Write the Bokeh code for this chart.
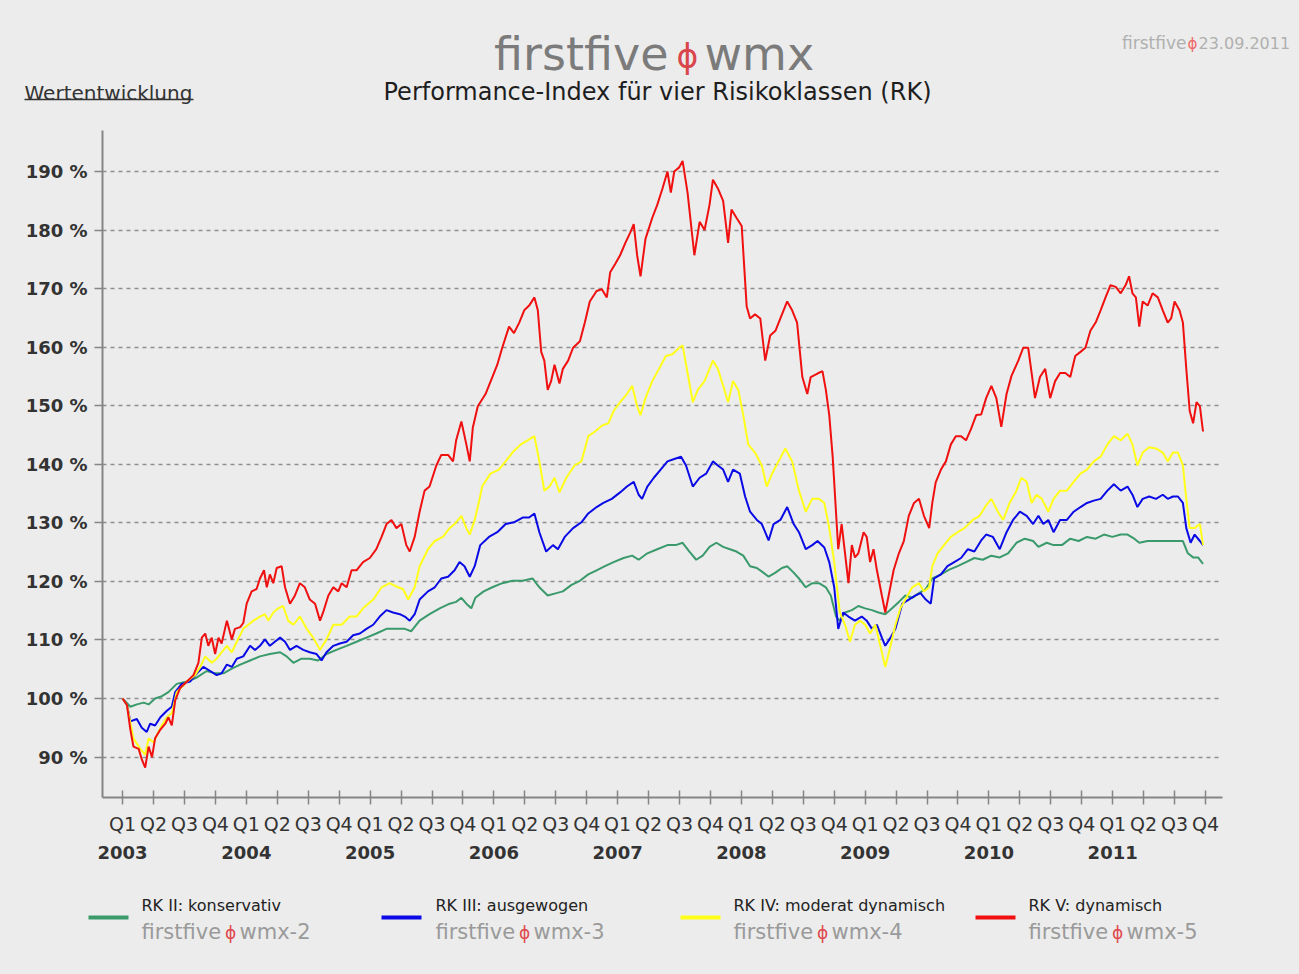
from bokeh.plotting import figure
from bokeh.models import Range1d, FixedTicker, LinearAxis, PrintfTickFormatter
from bokeh.embed import file_html
from bokeh.resources import INLINE
from bokeh.core.properties import value

# ---------------------------------------------------------------- data
# x = quarters elapsed since 1 Jan 2003 (0 = Q1 2003), y = index level in %
GREEN_Q = [0, 0.25, 0.46, 0.68, 0.84, 1.05, 1.27, 1.48, 1.75, 2.08, 2.40, 2.72, 2.99, 3.26, 3.53,
           3.80, 4.12, 4.44, 4.76, 5.09, 5.30, 5.52, 5.78, 6.05, 6.32, 6.59, 6.91, 7.24, 7.56, 7.88,
           8.20, 8.53, 8.85, 9.12, 9.33, 9.60, 9.92, 10.25, 10.57, 10.78, 10.95, 11.11, 11.27,
           11.40, 11.67, 11.95, 12.27, 12.60, 12.93, 13.25, 13.47, 13.74, 14.02, 14.23, 14.51, 14.78,
           15.05, 15.32, 15.59, 15.87, 16.19, 16.47, 16.68, 16.96, 17.28, 17.61, 17.88, 18.10, 18.32,
           18.54, 18.75, 18.97, 19.19, 19.41, 19.63, 19.84, 20.06, 20.28, 20.50, 20.71, 20.88, 21.10,
           21.31, 21.48, 21.69, 21.86, 22.08, 22.29, 22.51, 22.73, 22.89,
           23.06, 23.18, 23.35, 23.57, 23.78, 24.00, 24.22, 24.43, 24.65, 24.87, 25.09, 25.30, 25.52,
           25.74, 25.96, 26.17, 26.45, 26.72, 26.99, 27.26, 27.53, 27.80, 28.08, 28.35, 28.62, 28.89,
           29.16, 29.43, 29.60, 29.87, 30.09, 30.36, 30.63, 30.90, 31.17, 31.45, 31.72, 31.99, 32.26,
           32.48, 32.70, 32.86, 33.13, 33.40, 33.67, 33.89, 34.11, 34.27, 34.43, 34.60, 34.76, 34.92]
GREEN_V = [100.0, 98.6, 99.0, 99.3, 99.0, 100.0, 100.4, 101.1, 102.5, 102.9, 103.6, 104.7, 104.3, 104.3, 105.1,
           105.8, 106.5, 107.2, 107.6, 107.9, 107.2, 106.1, 106.8, 106.8, 106.5, 107.6, 108.3, 109.0, 109.7, 110.4,
           111.1, 111.9, 111.9, 111.9, 111.5, 113.3, 114.4, 115.4, 116.2, 116.5, 117.2, 116.2, 115.4,
           117.2, 118.3, 119.0, 119.7, 120.1, 120.1, 120.5, 119.0, 117.6, 118.0, 118.3, 119.4, 120.1,
           121.2, 121.9, 122.6, 123.3, 124.0, 124.4, 123.7, 124.8, 125.5, 126.2, 126.2, 126.6, 125.1,
           123.7, 124.4, 125.9, 126.6, 125.9, 125.5, 125.1, 124.4, 122.6, 122.3, 121.5, 120.8, 121.5,
           122.3, 122.6, 121.5, 120.5, 119.0, 119.7, 119.7, 119.0, 117.6,
           114.0, 113.3, 114.7, 115.1, 115.8, 115.4, 115.1, 114.7, 114.4, 115.4, 116.5, 117.6, 117.2,
           118.0, 118.7, 120.5, 121.2, 122.0, 122.6, 123.3, 124.0, 123.7, 124.4, 124.1, 124.8, 126.6,
           127.3, 126.9, 125.9, 126.6, 126.2, 126.2, 127.3, 126.9, 127.6, 127.3, 128.0, 127.6, 128.0,
           128.0, 127.3, 126.6, 126.9, 126.9, 126.9, 126.9, 126.9, 126.9, 124.8, 124.1, 124.1, 123.0]

BLUE_Q = [0, 0.14, 0.25, 0.46, 0.62, 0.78, 0.89, 1.05, 1.22, 1.43, 1.59, 1.70, 1.91, 2.18, 2.40,
          2.61, 2.83, 3.04, 3.20, 3.37, 3.53, 3.69, 3.90, 4.12, 4.28, 4.44, 4.60, 4.76, 4.92, 5.09,
          5.25, 5.41, 5.62, 5.84, 6.05, 6.27, 6.43, 6.59, 6.81, 7.02, 7.24, 7.45, 7.67, 7.88, 8.10,
          8.31, 8.53, 8.74, 8.96, 9.12, 9.28, 9.44, 9.60, 9.87, 10.09, 10.30, 10.52, 10.73, 10.89, 11.05,
          11.22, 11.38,
          11.56, 11.84, 12.11, 12.38, 12.65, 12.93, 13.14, 13.31, 13.47, 13.69, 13.91, 14.07, 14.29,
          14.56, 14.83, 15.05, 15.32, 15.54, 15.81, 16.08, 16.30, 16.52, 16.68, 16.79, 16.96, 17.17,
          17.39, 17.61, 17.83, 18.05, 18.21, 18.43, 18.65, 18.86, 19.08, 19.24, 19.41, 19.57, 19.73,
          19.95, 20.12, 20.28, 20.50, 20.66, 20.88, 21.04, 21.26, 21.48, 21.69, 21.86, 22.08, 22.29,
          22.46, 22.68, 22.84, 23.00,
          23.13, 23.29, 23.46, 23.67, 23.89, 24.05, 24.22, 24.38, 24.54, 24.65, 24.82, 24.98, 25.20,
          25.41, 25.63, 25.79, 25.96, 26.12, 26.23, 26.45, 26.66, 26.88, 27.10, 27.32, 27.53, 27.75,
          27.91, 28.13, 28.35, 28.57, 28.78, 29.00, 29.22, 29.43, 29.60, 29.76, 29.92, 30.09, 30.30,
          30.52, 30.74, 30.96, 31.17, 31.39, 31.61, 31.83, 32.04, 32.26, 32.48, 32.64, 32.80, 32.97,
          33.18, 33.40, 33.62, 33.78, 33.95, 34.11, 34.27, 34.38, 34.52, 34.65, 34.82, 34.92]
BLUE_V = [100.0, 98.9, 96.1, 96.5, 95.0, 94.3, 95.7, 95.4, 96.8, 97.9, 98.6, 101.1, 102.5, 102.9, 104.3,
          105.4, 104.7, 104.0, 104.3, 105.8, 105.4, 106.8, 107.2, 109.0, 108.3, 109.0, 110.1, 109.0, 109.7, 110.4,
          109.7, 108.3, 109.0, 108.3, 107.9, 107.6, 106.5, 107.9, 109.0, 109.4, 109.7, 110.8, 111.1, 111.9, 112.6,
          114.0, 115.1, 114.7, 114.4, 114.0, 113.3, 114.4, 116.9, 118.3, 119.0, 120.5, 120.8, 121.9, 123.3, 122.6,
          120.8, 122.6,
          126.2, 127.6, 128.4, 129.8, 130.1, 130.9, 130.9, 131.6, 128.4, 125.1, 126.2, 125.5, 127.6,
          129.1, 130.1, 131.6, 132.7, 133.4, 134.1, 135.2, 136.2, 137.0, 134.8, 134.1, 136.2, 137.7,
          139.1, 140.5, 140.9, 141.3, 139.8, 136.2, 137.7, 138.4, 140.5, 139.8, 139.1, 137.0, 139.1,
          138.4, 134.5, 131.9, 130.5, 129.8, 127.0, 129.8, 130.5, 132.7, 129.8, 128.4, 125.5, 126.2,
          126.9, 125.8, 123.3, 119.0,
          111.9, 114.7, 114.0, 113.3, 114.0, 113.3, 111.9, 112.6, 110.4, 109.0, 110.4, 111.9, 116.2,
          116.9, 117.6, 118.0, 116.9, 116.2, 120.5, 121.2, 122.6, 123.3, 124.0, 125.5, 125.1, 127.0,
          128.0, 127.6, 125.5, 128.4, 130.5, 131.9, 131.2, 129.8, 131.2, 129.8, 130.5, 128.4, 130.5,
          130.5, 131.9, 132.7, 133.4, 133.8, 134.1, 135.5, 136.6, 135.5, 136.2, 134.8, 132.7, 134.1,
          134.5, 134.1, 134.8, 134.1, 134.5, 134.5, 133.4, 129.1, 126.6, 128.0, 126.9, 126.2]

YELLOW_Q = [0, 0.14, 0.35, 0.57, 0.73, 0.84, 1.00, 1.22, 1.43, 1.59, 1.75, 2.08, 2.34, 2.51, 2.67,
            2.88, 3.04, 3.20, 3.37, 3.53, 3.69, 3.90, 4.06, 4.23, 4.44, 4.60, 4.71, 4.87, 5.03, 5.19,
            5.35, 5.52, 5.73, 5.95, 6.16, 6.38, 6.59, 6.81, 7.08, 7.34, 7.56, 7.77, 8.10, 8.37, 8.63,
            8.90, 9.06, 9.23, 9.44, 9.60, 9.87, 10.09, 10.35, 10.57, 10.73, 10.95, 11.11, 11.22, 11.38, 11.54,
            11.62, 11.89, 12.16, 12.38, 12.60, 12.87, 13.09, 13.31, 13.47, 13.63, 13.80, 13.96, 14.12,
            14.34, 14.61, 14.83, 15.05, 15.27, 15.49, 15.70, 15.87, 16.08, 16.30, 16.47, 16.63, 16.74,
            16.90, 17.12, 17.34, 17.56, 17.77, 17.99, 18.10, 18.26, 18.43, 18.59, 18.81, 18.97, 19.08,
            19.24, 19.41, 19.57, 19.73, 19.90, 20.06, 20.22, 20.44, 20.66, 20.82, 20.99, 21.20, 21.42,
            21.64, 21.86, 22.08, 22.29, 22.51, 22.68, 22.84, 23.00,
            23.18, 23.35, 23.51, 23.67, 23.84, 24.00, 24.16, 24.33, 24.49, 24.65, 24.82, 24.98, 25.14,
            25.30, 25.52, 25.74, 25.90, 26.07, 26.17, 26.34, 26.55, 26.77, 26.99, 27.21, 27.48, 27.70,
            27.91, 28.08, 28.29, 28.46, 28.67, 28.89, 29.05, 29.22, 29.38, 29.54, 29.71, 29.92, 30.09,
            30.30, 30.52, 30.74, 30.96, 31.17, 31.39, 31.61, 31.83, 32.04, 32.26, 32.48, 32.64, 32.80,
            32.97, 33.18, 33.40, 33.62, 33.78, 33.95, 34.11, 34.27, 34.38, 34.49, 34.65, 34.82, 34.92]
YELLOW_V = [100.0, 98.9, 93.2, 91.4, 90.4, 93.2, 92.5, 95.0, 96.8, 97.5, 101.1, 102.9, 104.0, 105.4, 107.2,
            106.1, 106.8, 107.9, 109.0, 107.9, 109.7, 111.9, 112.6, 113.3, 114.0, 114.4, 113.3, 114.7, 115.4, 115.8,
            113.3, 112.6, 114.0, 111.9, 110.4, 108.3, 110.1, 112.6, 112.6, 114.0, 114.0, 115.4, 116.9, 119.0, 119.7,
            119.0, 118.7, 116.9, 119.0, 122.6, 125.5, 126.9, 127.6, 129.1, 129.8, 131.2, 129.1, 128.0, 130.5, 134.1,
            136.2, 138.4, 139.1, 140.5, 142.0, 143.4, 144.1, 144.8, 140.5, 135.5, 136.2, 137.7, 135.2,
            137.7, 139.8, 140.5, 144.8, 145.6, 146.6, 147.0, 149.1, 150.6, 152.0, 153.4, 149.9, 148.4,
            151.3, 154.2, 156.3, 158.5, 158.8, 159.9, 160.3, 155.6, 150.6, 152.7, 154.2, 156.3, 157.7,
            156.3, 153.4, 150.6, 154.2, 152.7, 148.4, 143.4, 142.0, 139.8, 136.2, 138.4, 140.5, 142.7,
            140.5, 135.5, 131.9, 134.1, 134.1, 133.4, 129.1, 123.3,
            114.7, 112.6, 109.7, 112.6, 113.3, 112.6, 111.1, 112.6, 109.0, 105.4, 109.0, 112.6, 115.4,
            116.9, 119.0, 119.7, 118.3, 119.0, 122.6, 124.8, 126.2, 127.6, 128.4, 129.1, 130.5, 131.2,
            133.0, 134.1, 131.9, 130.5, 133.4, 135.5, 137.7, 137.0, 133.4, 134.8, 134.1, 131.9, 134.1,
            135.5, 135.5, 137.0, 138.4, 139.1, 140.5, 141.3, 143.4, 144.8, 144.1, 145.2, 143.4, 139.8,
            142.0, 142.9, 142.7, 142.0, 140.5, 142.0, 142.0, 139.8, 134.1, 129.1, 129.1, 129.8, 126.2]

RED_Q = [0, 0.14, 0.25, 0.35, 0.52, 0.62, 0.73, 0.84, 0.95, 1.05, 1.22, 1.38, 1.48, 1.59, 1.70,
         1.86, 2.08, 2.29, 2.45, 2.56, 2.67, 2.77, 2.88, 2.99, 3.10, 3.20, 3.37, 3.53, 3.63, 3.80,
         3.90, 4.01, 4.17, 4.33, 4.44, 4.57, 4.66, 4.76, 4.87, 4.98, 5.14, 5.25, 5.41, 5.57, 5.73,
         5.89, 6.05, 6.22, 6.38, 6.48, 6.65, 6.81, 6.97, 7.08, 7.24, 7.40, 7.56, 7.77, 7.99, 8.20,
         8.37, 8.53, 8.69, 8.85, 9.01, 9.17, 9.28, 9.44, 9.60, 9.76, 9.92, 10.14, 10.30, 10.52, 10.68,
         10.78, 10.95, 11.11, 11.22, 11.32, 11.48,
         11.73, 11.95, 12.11, 12.27, 12.49, 12.65, 12.82, 12.98, 13.14, 13.31, 13.42, 13.53, 13.63,
         13.74, 13.85, 13.96, 14.12, 14.23, 14.40, 14.56, 14.78, 14.94, 15.10, 15.32, 15.49, 15.65,
         15.76, 15.92, 16.08, 16.25, 16.41, 16.52, 16.63, 16.74, 16.90, 17.12, 17.28, 17.45, 17.61,
         17.72, 17.83, 17.99, 18.10, 18.26, 18.48, 18.65, 18.81, 18.97, 19.08, 19.24, 19.41, 19.57,
         19.68, 19.84, 20.01, 20.17, 20.28, 20.44, 20.61, 20.77, 20.93, 21.10, 21.26, 21.48, 21.64,
         21.80, 21.97, 22.13, 22.24, 22.46, 22.62, 22.73, 22.84, 22.95,
         23.13, 23.24, 23.35, 23.46, 23.57, 23.67, 23.78, 23.95, 24.05, 24.16, 24.27, 24.38, 24.54,
         24.65, 24.76, 24.92, 25.09, 25.25, 25.41, 25.58, 25.74, 25.90, 26.07, 26.17, 26.28, 26.45,
         26.61, 26.77, 26.93, 27.10, 27.26, 27.42, 27.59, 27.75, 27.91, 28.08, 28.24, 28.40, 28.57,
         28.73, 28.95, 29.11, 29.27, 29.38, 29.49, 29.65, 29.82, 29.98, 30.14, 30.30, 30.47, 30.63,
         30.79, 30.96, 31.12, 31.28, 31.45, 31.61, 31.77, 31.93, 32.10, 32.26, 32.42, 32.53, 32.64,
         32.75, 32.86, 32.97, 33.13, 33.29, 33.46, 33.62, 33.78, 33.89, 34.00, 34.16, 34.27, 34.38,
         34.49, 34.60, 34.71, 34.82, 34.92]
RED_V = [100.0, 98.9, 94.7, 91.8, 91.4, 89.6, 88.2, 91.8, 90.0, 93.2, 94.7, 95.7, 96.8, 95.4, 99.7,
         101.8, 102.9, 104.0, 106.1, 110.4, 111.1, 109.0, 110.4, 107.6, 110.4, 109.4, 113.3, 110.1, 111.9, 112.2,
         112.9, 116.2, 118.3, 118.7, 120.5, 121.9, 119.0, 121.2, 119.7, 122.3, 122.6, 119.0, 116.2, 117.6, 119.7,
         119.0, 116.9, 116.2, 113.3, 114.7, 117.6, 119.0, 118.3, 119.7, 119.0, 121.9, 121.9, 123.3, 124.0, 125.5,
         127.6, 129.8, 130.5, 129.1, 129.8, 126.2, 125.1, 127.6, 131.9, 135.5, 136.2, 139.8, 141.6, 141.6, 140.5,
         144.1, 147.3, 143.4, 140.5, 146.3, 149.9,
         152.0, 154.9, 157.0, 159.9, 163.5, 162.4, 164.2, 166.3, 167.1, 168.5, 166.3, 159.2, 157.7,
         152.7, 154.2, 157.0, 153.8, 156.3, 157.7, 159.9, 161.0, 164.2, 167.8, 169.6, 169.9, 168.5,
         172.8, 174.2, 175.7, 177.8, 179.6, 181.0, 175.7, 172.1, 178.5, 182.1, 184.3, 187.1, 190.0,
         186.4, 190.0, 190.7, 191.8, 186.4, 175.7, 181.4, 180.0, 184.3, 188.6, 187.1, 185.0, 177.8,
         183.5, 182.1, 180.7, 167.0, 164.9, 165.6, 164.9, 157.7, 162.0, 162.8, 164.9, 167.8, 166.3,
         164.2, 154.9, 152.0, 154.9, 155.5, 155.9, 152.7, 148.4, 141.3,
         125.5, 129.8, 124.8, 119.7, 126.2, 124.1, 124.8, 128.4, 127.6, 123.3, 125.5, 121.9, 117.6,
         114.7, 117.6, 121.9, 124.8, 126.9, 131.2, 133.4, 134.1, 131.2, 129.1, 133.4, 136.9, 139.1,
         140.5, 143.4, 144.8, 144.8, 144.1, 146.0, 148.4, 148.5, 151.3, 153.4, 151.3, 146.4, 152.0,
         155.1, 157.7, 159.9, 159.9, 155.6, 151.3, 154.9, 156.3, 151.3, 154.2, 155.6, 155.6, 154.9,
         158.5, 159.2, 159.9, 162.8, 164.2, 166.3, 168.5, 170.6, 170.3, 169.2, 170.6, 172.1, 169.2,
         168.5, 163.5, 167.8, 167.1, 169.2, 168.5, 166.3, 164.2, 164.9, 167.8, 166.3, 164.2, 156.3,
         149.1, 147.0, 150.6, 149.9, 145.6]

SERIES_NAMES = ["RK II: konservativ", "RK III: ausgewogen", "RK IV: moderat dynamisch", "RK V: dynamisch"]
SERIES_CODES = ["wmx-2", "wmx-3", "wmx-4", "wmx-5"]
SERIES_COLORS = ["#3a9a6c", "#0a0ae6", "#ffff1a", "#f01010"]
SERIES_DATA = [(GREEN_Q, GREEN_V), (BLUE_Q, BLUE_V), (YELLOW_Q, YELLOW_V), (RED_Q, RED_V)]

QUARTER_LABELS = ["Q1", "Q2", "Q3", "Q4"]
YEARS = [2003, 2004, 2005, 2006, 2007, 2008, 2009, 2010, 2011]
N_QUARTERS = 36
Y_TICKS = [90, 100, 110, 120, 130, 140, 150, 160, 170, 180, 190]

BRAND = "firstfive"
BRAND_MARK = "\u03d5"
PRODUCT = "wmx"
STAMP_DATE = "23.09.2011"
TITLE = "Performance-Index für vier Risikoklassen (RK)"
SECTION = "Wertentwicklung"

# ---------------------------------------------------------------- style
W = 1299
BG = "#ececec"
FONT = value("DejaVu Sans")
AXIS_GREY = "#858585"

PAGE_TEMPLATE = """
{% block postamble %}
<style>html, body { background: #ececec; margin: 0; padding: 0; }</style>
{% endblock %}
"""


def blank(h):
    f = figure(width=W, height=h, x_range=Range1d(0, W), y_range=Range1d(h, 0),
               output_backend="svg", toolbar_location=None,
               x_axis_location=None, y_axis_location=None, min_border=0,
               background_fill_color=BG, border_fill_color=BG, outline_line_color=None)
    f.xgrid.visible = False
    f.ygrid.visible = False
    return f


def txt(f, x, y, s, size, color, align="left", bold=False):
    f.text(x=[x], y=[y], text=[s], text_font=FONT, text_font_size=size, text_color=color,
           text_align=align, text_baseline="alphabetic",
           text_font_style="bold" if bold else "normal")


# ---------------------------------------------------------------- header (page y 0..120)
H_HDR = 120
hdr = blank(H_HDR)
txt(hdr, 668, 53, BRAND, "46px", "#7b7b7b", "right")
txt(hdr, 687, 56, BRAND_MARK, "33px", "#d9464b", "center")
txt(hdr, 704, 53, PRODUCT, "46px", "#7b7b7b", "left")
txt(hdr, 657, 91, TITLE, "24px", "#1e1e1e", "center")
txt(hdr, 24, 92, SECTION, "20px", "#333333", "left")
hdr.segment(x0=[24], y0=[99], x1=[193], y1=[99], line_color="#333333", line_width=1.5)
txt(hdr, 1186, 42, BRAND, "17px", "#b0b0b0", "right")
txt(hdr, 1192, 43, BRAND_MARK, "15px", "#ee6a6a", "center")
txt(hdr, 1198, 42, STAMP_DATE, "16px", "#b0b0b0", "left")

# ---------------------------------------------------------------- main chart (page y 120..870)
H_MAIN = 750
p = figure(width=W, height=H_MAIN, x_range=Range1d(-0.65, 35.55), y_range=Range1d(83.1, 197.0),
           output_backend="svg", toolbar_location=None,
           min_border_left=102, min_border_right=77, min_border_top=10, min_border_bottom=73,
           background_fill_color=BG, border_fill_color=BG, outline_line_color=None)

for (qs, vs), col in zip(SERIES_DATA, SERIES_COLORS):
    p.line(qs, vs, line_color=col, line_width=2)

xa = p.xaxis[0]
xa.ticker = FixedTicker(ticks=list(range(N_QUARTERS)))
xa.major_label_overrides = {i: QUARTER_LABELS[i % 4] for i in range(N_QUARTERS)}
xa.axis_line_color = AXIS_GREY
xa.axis_line_width = 2
xa.major_tick_line_color = AXIS_GREY
xa.major_tick_line_width = 1.5
xa.major_tick_in = 7
xa.major_tick_out = 7
xa.minor_tick_line_color = None
xa.major_label_standoff = 8
xa.major_label_text_font = "DejaVu Sans"
xa.major_label_text_font_size = "19px"
xa.major_label_text_color = "#333333"

year_axis = LinearAxis(ticker=FixedTicker(ticks=[4 * i for i in range(len(YEARS))]),
                       major_label_overrides={4 * i: str(y) for i, y in enumerate(YEARS)},
                       axis_line_color=None, major_tick_line_color=None, minor_tick_line_color=None,
                       major_tick_out=0, major_tick_in=0, major_label_standoff=8,
                       major_label_text_font="DejaVu Sans", major_label_text_font_size="18px",
                       major_label_text_font_style="bold", major_label_text_color="#333333")
p.add_layout(year_axis, "below")

ya = p.yaxis[0]
ya.ticker = FixedTicker(ticks=Y_TICKS)
ya.formatter = PrintfTickFormatter(format="%d %%")
ya.axis_line_color = AXIS_GREY
ya.axis_line_width = 2
ya.major_tick_line_color = AXIS_GREY
ya.major_tick_line_width = 1.5
ya.major_tick_in = 0
ya.major_tick_out = 8
ya.minor_tick_line_color = None
ya.major_label_standoff = 7
ya.major_label_text_font = "DejaVu Sans"
ya.major_label_text_font_size = "18px"
ya.major_label_text_font_style = "bold"
ya.major_label_text_color = "#333333"

p.xgrid.visible = False
p.ygrid.grid_line_color = "#8f8f8f"
p.ygrid.grid_line_width = 1.5
p.ygrid.grid_line_dash = "4 4"

# ---------------------------------------------------------------- legend strip (page y 870..974)
H_LEG = 104
leg = blank(H_LEG)
SW_X = [88, 381, 680, 975]
TX_X = [141, 435, 733, 1028]
for i, (name, code, col) in enumerate(zip(SERIES_NAMES, SERIES_CODES, SERIES_COLORS)):
    leg.segment(x0=[SW_X[i]], y0=[47], x1=[SW_X[i] + 40], y1=[47], line_color=col, line_width=4)
    txt(leg, TX_X[i], 35, name, "16px", "#222222", "left")
    txt(leg, TX_X[i], 61, BRAND, "21px", "#9a9a9a", "left")
    txt(leg, TX_X[i] + 89, 62, BRAND_MARK, "17px", "#e04a4f", "center")
    txt(leg, TX_X[i] + 98, 61, code, "21px", "#9a9a9a", "left")

open("out.html", "w").write(file_html([hdr, p, leg], INLINE, template=PAGE_TEMPLATE))
